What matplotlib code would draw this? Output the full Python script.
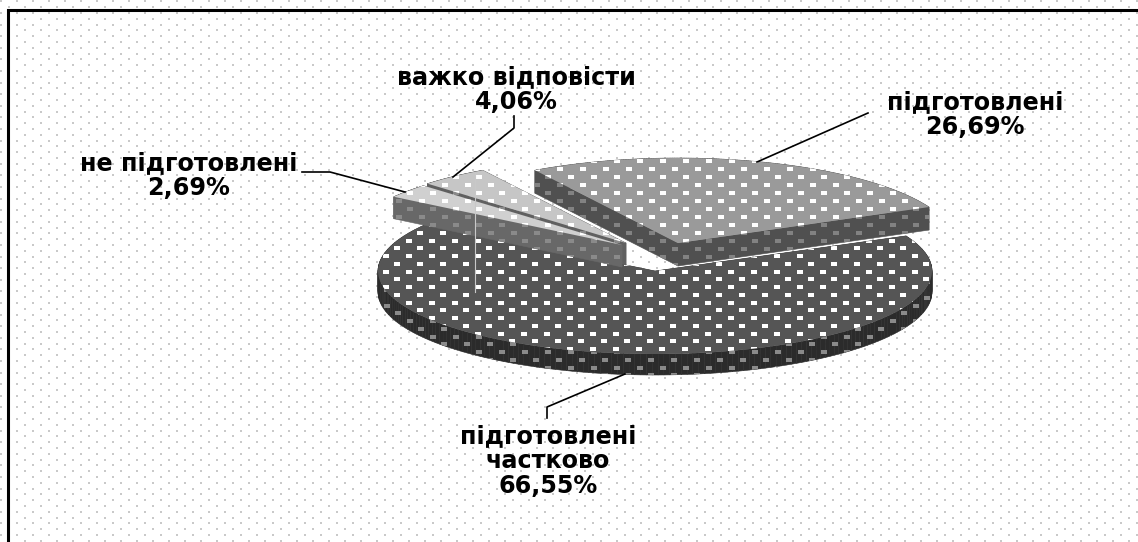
# -*- coding: utf-8 -*-
import numpy as np
import matplotlib
matplotlib.use("Agg")
import matplotlib.pyplot as plt
from matplotlib.patches import Polygon
from matplotlib.path import Path

plt.rcParams['font.family'] = ['DejaVu Sans']

# shares in percent, clockwise from the top
labels = ['підготовлені\n26,69%', 'підготовлені\nчастково\n66,55%',
          'не підготовлені\n2,69%', 'важко відповісти\n4,06%']
values = [26.69, 66.55, 2.69, 4.06]

start_angle = -31.1
rx = 277

# exploded slices: apex of the top face in pixels, vertical radius and thickness
apex = [(678, 243), (655, 271), (622, 245), (626, 243)]
ry = [85, 83, 85, 85]
depth = [23, 21, 22, 22]
top_col = ['#9a9a9a', '#555555', '#d0d0d0', '#c6c6c6']
side_col = ['#505050', '#2b2b2b', '#686868', '#606060']
side_dot = ['#828282', '#8a8a8a', '#8a8a8a', '#8a8a8a']
draw_order = [1, 0, 3, 2]

# label centres and leader lines in pixels
label_pos = [(975, 115), (548, 461), (189, 176), (516, 90)]
leaders = [[(757, 162), (868, 113)],
           [(625, 374), (547, 407), (547, 418)],
           [(405, 192), (330, 172), (302, 172)],
           [(453, 177), (514, 128), (514, 116)]]

fig = plt.figure(figsize=(11.38, 5.42), dpi=100)
ax = fig.add_axes([0, 0, 1, 1])
ax.set_xlim(0, 1138)
ax.set_ylim(542, 0)
ax.axis('off')

rect = Path([(-1, -0.7), (1, -0.7), (1, 0.7), (-1, 0.7), (-1, -0.7)], closed=True)


def dots(x0, y0, dx, dy, col, size, clip=None, zorder=2):
    # staggered rows of little rectangles, same as the office pattern fill
    pts = []
    for y in np.arange(y0 % dy, 542, dy):
        shift = dx / 2 if (round((y - y0) / dy) % 2) else 0
        for x in np.arange((x0 + shift) % dx, 1138, dx):
            pts.append((x, y))
    pts = np.array(pts)
    sc = ax.scatter(pts[:, 0], pts[:, 1], marker=rect, s=size, color=col,
                    linewidths=0, zorder=zorder)
    if clip is not None:
        sc.set_clip_path(clip)


def slice_outline(cx, cy, b, a0, a1):
    t = np.radians(np.linspace(a0, a1, 200))
    x = cx + rx * np.sin(t)
    y = cy - b * np.cos(t)
    return np.column_stack([np.r_[cx, x], np.r_[cy, y]])


# background
dots(17, 13, 16, 5.8, '#c9c9c9', 3.4, zorder=1)

ang = start_angle + np.cumsum([0] + [v * 3.6 for v in values])
z = 3
for k in draw_order:
    cx, cy = apex[k]
    top = slice_outline(cx, cy, ry[k], ang[k], ang[k + 1])
    closed = np.vstack([top, top[0]])
    # walls: one quad per outline edge, then the pattern on top of them
    low = closed + [0, depth[k]]
    for a, b, c, d in zip(closed[:-1], closed[1:], low[1:], low[:-1]):
        ax.add_patch(Polygon([a, b, c, d], closed=True, fc=side_col[k], ec=side_col[k],
                             lw=0.4, zorder=z))
    # outline of the extruded shape, for clipping the wall dots
    if k == 1:
        t = np.radians(np.linspace(90, 270, 200))
        wall_pts = np.vstack([
            np.column_stack([cx + rx * np.sin(t), cy - ry[k] * np.cos(t)]),
            np.column_stack([cx + rx * np.sin(t[::-1]), cy + depth[k] - ry[k] * np.cos(t[::-1])])])
        gx, gy = 479, 352
        ddx, ddy = 23, 7.75
    elif k == 0:
        wall_pts = np.vstack([top[1], top[0], top[-1], top[-1] + [0, depth[k]],
                              top[0] + [0, depth[k]], top[1] + [0, depth[k]]])
        gx, gy = 559.7, 169
        ddx, ddy = 23, 8
    else:
        wall_pts = np.vstack([top[1], top[0], top[0] + [0, depth[k]], top[1] + [0, depth[k]]])
        gx, gy = 559.7, 169
        ddx, ddy = 23, 8
    wall_clip = Polygon(wall_pts, closed=True, transform=ax.transData)
    dots(gx, gy, ddx, ddy, side_dot[k], 18, clip=wall_clip, zorder=z + 0.1)

    face = Polygon(top, closed=True, fc=top_col[k], ec='none', zorder=z + 0.2)
    ax.add_patch(face)
    if k == 1:
        gx, gy = 385.7, 256
    dots(gx, gy, ddx, ddy, 'white', 18, clip=face, zorder=z + 0.3)
    z += 1

# scanner streak over the small slices
ax.plot([475, 475], [172, 292], color='#c8c8c8', lw=0.8, zorder=z)

for pts in leaders:
    pts = np.array(pts)
    ax.plot(pts[:, 0], pts[:, 1], color='black', lw=1.2, zorder=z + 1)

for lab, (x, y) in zip(labels, label_pos):
    ax.text(x, y, lab, ha='center', va='center', fontsize=17.2, fontweight='bold',
            color='black', linespacing=1.04, zorder=z + 2)

# frame is only visible on the top and left
ax.plot([8.5, 8.5, 1138], [542, 9.5, 9.5], color='black', lw=2.2, zorder=z + 3,
        solid_joinstyle='miter')

fig.savefig('out.png', dpi=100)
